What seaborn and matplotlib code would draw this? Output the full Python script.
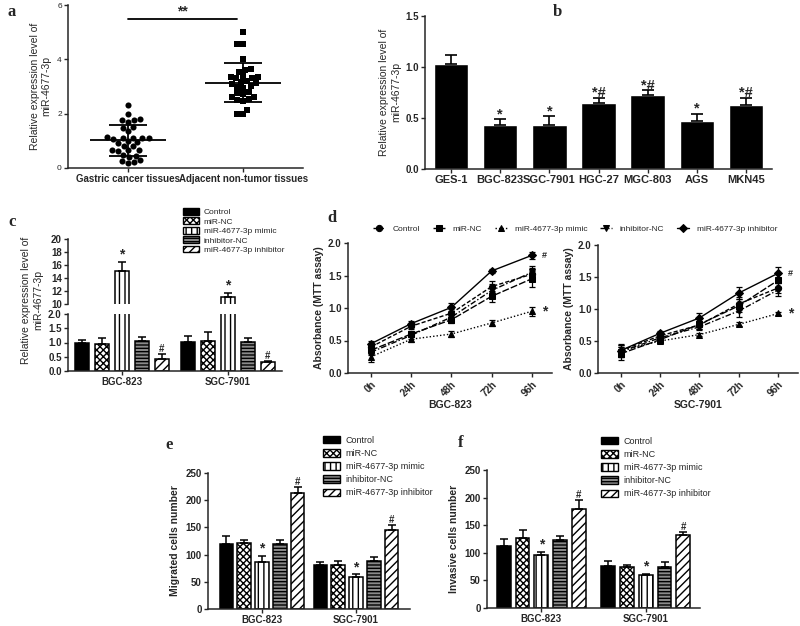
import numpy as np
import pandas as pd
import matplotlib
matplotlib.use("Agg")
import matplotlib.pyplot as plt
from matplotlib.patches import Patch
from matplotlib.container import BarContainer
import seaborn as sns

# ---- a: single tissue samples ----
tissues = ["Gastric cancer tissues", "Adjacent non-tumor tissues"]
tumor_expr = [2.32, 2.0, 1.82, 1.78, 1.75, 1.68, 1.5, 1.48, 1.35, 1.15, 1.12, 1.12,
              1.1, 1.1, 1.05, 0.98, 0.95, 0.92, 0.82, 0.8, 0.68, 0.65, 0.65, 0.62,
              0.48, 0.45, 0.42, 0.28, 0.25, 0.22, 0.2]
adjacent_expr = [5.0, 4.58, 4.58, 4.0, 3.65, 3.6, 3.55, 3.4, 3.35, 3.35, 3.3, 3.3,
                 3.2, 3.15, 3.12, 3.1, 3.0, 2.98, 2.95, 2.8, 2.75, 2.72, 2.62, 2.6,
                 2.55, 2.5, 2.45, 2.15, 2.0, 2.0]

# ---- b: cell lines ----
cell_lines = ["GES-1", "BGC-823", "SGC-7901", "HGC-27", "MGC-803", "AGS", "MKN45"]
cell_expr = [1.03, 0.43, 0.43, 0.65, 0.73, 0.47, 0.63]
cell_sd = [0.09, 0.06, 0.09, 0.05, 0.04, 0.07, 0.07]
cell_marks = ["", "*", "*", "*#", "*#", "*", "*#"]

groups = ["Control", "miR-NC", "miR-4677-3p mimic", "inhibitor-NC", "miR-4677-3p inhibitor"]
lines = ["BGC-823", "SGC-7901"]
group_marks = ["", "", "*", "", "#"]

# ---- c: expression after transfection ----
c_bgc = [1.0, 0.95, 15.1, 1.07, 0.42]
c_bgc_sd = [0.1, 0.2, 1.4, 0.13, 0.17]
c_sgc = [1.03, 1.07, 11.1, 1.03, 0.33]
c_sgc_sd = [0.2, 0.3, 0.6, 0.12, 0.03]

# ---- d: MTT ----
hours = [0, 24, 48, 72, 96]
hour_labels = ["0h", "24h", "48h", "72h", "96h"]
mtt_bgc = [[0.40, 0.72, 0.92, 1.33, 1.52],
           [0.35, 0.60, 0.82, 1.18, 1.45],
           [0.25, 0.52, 0.60, 0.77, 0.95],
           [0.32, 0.58, 0.86, 1.27, 1.55],
           [0.45, 0.76, 1.01, 1.57, 1.81]]
mtt_bgc_sd = [[0.05, 0.05, 0.06, 0.08, 0.10],
              [0.06, 0.05, 0.05, 0.08, 0.12],
              [0.08, 0.05, 0.05, 0.05, 0.07],
              [0.05, 0.05, 0.06, 0.10, 0.10],
              [0.05, 0.04, 0.06, 0.03, 0.05]]
mtt_sgc = [[0.35, 0.58, 0.75, 1.08, 1.33],
           [0.30, 0.52, 0.76, 1.05, 1.45],
           [0.35, 0.50, 0.60, 0.76, 0.93],
           [0.33, 0.55, 0.72, 0.97, 1.30],
           [0.35, 0.62, 0.86, 1.25, 1.56]]
mtt_sgc_sd = [[0.10, 0.05, 0.07, 0.10, 0.08],
              [0.10, 0.05, 0.08, 0.10, 0.10],
              [0.08, 0.03, 0.02, 0.03, 0.02],
              [0.08, 0.04, 0.05, 0.10, 0.10],
              [0.08, 0.04, 0.07, 0.10, 0.09]]

# ---- e: migration ----
mig_bgc = [119, 121, 86, 119, 213]
mig_bgc_sd = [15, 6, 12, 7, 11]
mig_sgc = [80, 81, 59, 89, 146]
mig_sgc_sd = [6, 8, 5, 7, 8]

# ---- f: invasion ----
inv_bgc = [113, 126, 96, 124, 179]
inv_bgc_sd = [12, 15, 6, 6, 17]
inv_sgc = [76, 74, 59, 74, 132]
inv_sgc_sd = [9, 3, 3, 9, 5]

# styles
bar_faces = ["black", "white", "white", "#8a8a8a", "white"]
bar_hatches = [None, "xxxxx", "|||", "-----", "////"]
mtt_markers = ["o", "s", "^", "v", "D"]
mtt_dashes = [(3, 1.5), (5, 1.5), (1, 1.5), (4, 1.5, 1, 1.5), ""]

TICK = 7
YLAB = "Relative expression level of\nmiR-4677-3p"


def px(x, y, w, h):
    return [x / 800, 1 - (y + h) / 626, w / 800, h / 626]


def style_axis(ax, bold_y=True):
    sns.despine(ax=ax)
    for s in ["left", "bottom"]:
        ax.spines[s].set_linewidth(1.1)
    ax.tick_params(width=1.0, length=3, labelsize=TICK, pad=1.5)
    for lab in ax.get_xticklabels():
        lab.set_fontweight("bold")
    if bold_y:
        for lab in ax.get_yticklabels():
            lab.set_fontweight("bold")


def panel_letter(fig, x, y, s):
    fig.text(x / 800, 1 - y / 626, s, fontsize=12, fontweight="bold",
             family="Liberation Serif", ha="left", va="center")


def bar_panel(ax, bgc, sgc, bgc_sd, sgc_sd, width, gap, mark_fs, lim):
    df = pd.DataFrame({"line": np.repeat(lines, len(groups)),
                       "group": groups * 2,
                       "value": bgc + sgc})
    sns.barplot(data=df, x="line", y="value", hue="group", order=lines,
                hue_order=groups, width=width, gap=gap, errorbar=None,
                palette=bar_faces, saturation=1, edgecolor="black",
                linewidth=1.1, legend=False, ax=ax)
    sds = [bgc_sd, sgc_sd]
    bar_conts = [c for c in ax.containers if isinstance(c, BarContainer)]
    for k, cont in enumerate(bar_conts):
        for j, bar in enumerate(cont):
            bar.set_facecolor(bar_faces[k])
            if bar_hatches[k]:
                bar.set_hatch(bar_hatches[k])
            x = bar.get_x() + bar.get_width() / 2
            h = bar.get_height()
            e = sds[j][k]
            ax.errorbar(x, h, yerr=[[0], [e]], fmt="none", ecolor="black",
                        elinewidth=1.1, capsize=3, capthick=1.1, zorder=3)
            m = group_marks[k]
            if m and lim[0] < h + e < lim[1]:
                fs = mark_fs if m == "*" else mark_fs * 0.7
                ax.text(x, h + e, m, ha="center", va="bottom", fontsize=fs,
                        fontweight="bold")
    ax.set_ylim(*lim)


def bar_legend(fig, x, y, fs, spacing):
    handles = [Patch(facecolor=f, edgecolor="black", hatch=h, linewidth=1.0)
               for f, h in zip(bar_faces, bar_hatches)]
    fig.legend(handles, groups, loc="upper left",
               bbox_to_anchor=(x / 800, 1 - y / 626), frameon=False,
               fontsize=fs, handlelength=1.9, handleheight=0.85,
               labelspacing=spacing, handletextpad=0.6, borderaxespad=0,
               borderpad=0)


def mtt_panel(ax, means, sds, show_legend):
    df = pd.DataFrame({"hour": hours * len(groups),
                       "group": np.repeat(groups, len(hours)),
                       "value": np.concatenate(means)})
    sns.lineplot(data=df, x="hour", y="value", hue="group", style="group",
                 hue_order=groups, style_order=groups,
                 palette={g: "black" for g in groups},
                 markers=dict(zip(groups, mtt_markers)),
                 dashes=dict(zip(groups, mtt_dashes)),
                 markersize=4.5, linewidth=1.0, markeredgecolor="black",
                 errorbar=None, ax=ax, legend=show_legend)
    for vals, err in zip(means, sds):
        ax.errorbar(hours, vals, yerr=err, fmt="none", ecolor="black",
                    elinewidth=0.9, capsize=2.2, capthick=0.9)
    ax.set_xlim(-13.7, 108)
    ax.set_ylim(0, 2.0)
    ax.set_xticks(hours)
    ax.set_xticklabels(hour_labels, rotation=45, ha="right",
                       rotation_mode="anchor")
    ax.set_yticks([0, 0.5, 1.0, 1.5, 2.0])
    ax.set_ylabel("Absorbance (MTT assay)", fontsize=7.5, fontweight="bold",
                  labelpad=3)
    ax.text(102, means[4][4], "#", fontsize=6.5, fontweight="bold", va="center")
    ax.text(102, means[2][4], "*", fontsize=10, fontweight="bold", va="center")


def main():
    sns.set_style("ticks")
    plt.rcParams["font.family"] = ["Liberation Sans", "DejaVu Sans"]
    plt.rcParams["hatch.linewidth"] = 1.0
    plt.rcParams["hatch.color"] = "black"

    fig = plt.figure(figsize=(8, 6.26), dpi=100)

    # ---- a ----
    ax = fig.add_axes(px(68, 5, 235, 163))
    df_a = pd.DataFrame({"tissue": [tissues[0]] * len(tumor_expr) + [tissues[1]] * len(adjacent_expr),
                         "value": tumor_expr + adjacent_expr})
    sns.swarmplot(data=df_a[df_a.tissue == tissues[0]], x="tissue", y="value",
                  order=tissues, marker="o", color="black", size=4.4, ax=ax)
    sns.swarmplot(data=df_a[df_a.tissue == tissues[1]], x="tissue", y="value",
                  order=tissues, marker="s", color="black", size=4.2, ax=ax)
    for i, vals in enumerate([tumor_expr, adjacent_expr]):
        m, sd = np.mean(vals), np.std(vals, ddof=1)
        ax.hlines(m, i - 0.33, i + 0.33, color="black", lw=1.3, zorder=4)
        ax.errorbar(i, m, yerr=sd, fmt="none", ecolor="black", elinewidth=1.3,
                    capsize=14, capthick=1.3, zorder=4)
    ax.plot([0, 0.95], [5.5, 5.5], color="black", lw=1.3)
    ax.text(0.47, 5.52, "**", ha="center", va="bottom", fontsize=10,
            fontweight="bold")
    ax.set_xlim(-0.52, 1.52)
    ax.set_ylim(0, 6)
    ax.set_yticks([0, 2, 4, 6])
    ax.set_xlabel("")
    ax.set_ylabel(YLAB, fontsize=7.5, labelpad=4)
    style_axis(ax, bold_y=False)
    ax.tick_params(axis="y", labelsize=6)

    # ---- b ----
    ax = fig.add_axes(px(425, 16, 347, 153))
    df_b = pd.DataFrame({"cell": cell_lines, "value": cell_expr})
    sns.barplot(data=df_b, x="cell", y="value", order=cell_lines, color="black",
                saturation=1, width=0.7, errorbar=None, ax=ax)
    for bar, e, mk in zip(list(ax.patches), cell_sd, cell_marks):
        x = bar.get_x() + bar.get_width() / 2
        h = bar.get_height()
        ax.errorbar(x, h, yerr=[[0], [e]], fmt="none", ecolor="black",
                    elinewidth=1.2, capsize=4, capthick=1.2)
        if mk:
            ax.text(x, h + e - 0.02, mk, ha="center", va="bottom",
                    fontsize=10.5, fontweight="bold")
    ax.set_xlim(-0.53, 6.53)
    ax.set_ylim(0, 1.5)
    ax.set_yticks([0, 0.5, 1.0, 1.5])
    ax.set_xlabel("")
    ax.set_ylabel(YLAB, fontsize=7.5, labelpad=3)
    style_axis(ax)
    ax.tick_params(axis="x", labelsize=8)

    # ---- c: broken axis ----
    ax_lo = fig.add_axes(px(68, 314, 214, 57))
    ax_hi = fig.add_axes(px(68, 239, 214, 65))
    for a_, lim, ticks in [(ax_lo, (0, 2.0), [0, 0.5, 1.0, 1.5, 2.0]),
                           (ax_hi, (10, 20), [10, 12, 14, 16, 18, 20])]:
        bar_panel(a_, c_bgc, c_sgc, c_bgc_sd, c_sgc_sd, 0.94, 0.3, 10, lim)
        a_.set_xlim(-0.51, 1.51)
        a_.set_yticks(ticks)
        a_.set_xlabel("")
        a_.set_ylabel("")
        style_axis(a_)
    ax_hi.spines["bottom"].set_visible(False)
    ax_hi.tick_params(axis="x", bottom=False, labelbottom=False)
    fig.text(32 / 800, 1 - 300 / 626, YLAB, rotation=90, ha="center",
             va="center", fontsize=7.5, multialignment="center")
    bar_legend(fig, 183, 208, 6.0, 0.15)

    # ---- d ----
    ax_d1 = fig.add_axes(px(348, 243, 204, 130))
    mtt_panel(ax_d1, mtt_bgc, mtt_bgc_sd, True)
    ax_d1.set_xlabel("BGC-823", fontsize=7.5, fontweight="bold", labelpad=1)
    style_axis(ax_d1)
    handles, labels = ax_d1.get_legend_handles_labels()
    ax_d1.get_legend().remove()
    fig.legend(handles, labels, ncol=5, loc="center",
               bbox_to_anchor=(575 / 800, 1 - 229 / 626), frameon=False,
               fontsize=6.0, handlelength=1.5, columnspacing=1.5,
               handletextpad=0.9)

    ax_d2 = fig.add_axes(px(598, 245, 200, 128))
    mtt_panel(ax_d2, mtt_sgc, mtt_sgc_sd, False)
    ax_d2.set_xlabel("SGC-7901", fontsize=7.5, fontweight="bold", labelpad=1)
    style_axis(ax_d2)

    # ---- e ----
    ax = fig.add_axes(px(208, 473, 202, 136))
    bar_panel(ax, mig_bgc, mig_sgc, mig_bgc_sd, mig_sgc_sd, 0.95, 0.25, 10,
              (0, 250))
    ax.set_xlim(-0.574, 1.574)
    ax.set_yticks([0, 50, 100, 150, 200, 250])
    ax.set_xlabel("")
    ax.set_ylabel("Migrated cells number", fontsize=7.5, fontweight="bold")
    style_axis(ax)
    bar_legend(fig, 323, 436, 6.5, 0.45)

    # ---- f ----
    ax = fig.add_axes(px(487, 470, 213, 138))
    bar_panel(ax, inv_bgc, inv_sgc, inv_bgc_sd, inv_sgc_sd, 0.9, 0.26, 10,
              (0, 250))
    ax.set_xlim(-0.52, 1.52)
    ax.set_yticks([0, 50, 100, 150, 200, 250])
    ax.set_xlabel("")
    ax.set_ylabel("Invasive cells number", fontsize=7.5, fontweight="bold")
    style_axis(ax)
    bar_legend(fig, 601, 437, 6.5, 0.45)

    for x, y, s in [(8, 12, "a"), (553, 12, "b"), (8, 222, "c"),
                    (327, 218, "d"), (165, 445, "e"), (458, 443, "f")]:
        panel_letter(fig, x, y, s)

    fig.savefig("out.png", dpi=100)


if __name__ == "__main__":
    main()
